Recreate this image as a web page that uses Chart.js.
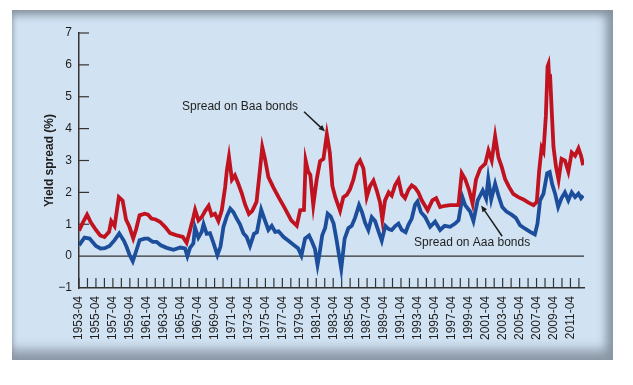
<!DOCTYPE html>
<html>
<head>
<meta charset="utf-8">
<title>Yield spread</title>
<script src="https://cdn.jsdelivr.net/npm/chart.js@4.4.1/dist/chart.umd.min.js"></script>
<style>
  html, body { margin: 0; padding: 0; background: #fff; }
  #wrap { position: relative; width: 633px; height: 385px; }
  #panel {
    position: absolute; left: 12px; top: 10px; width: 601px; height: 350px;
    background: #d1e3f3;
    box-shadow: inset 0 9px 8px -4px #85929f, inset 0 -16px 12px -6px #8a97a5,
                inset -12px 0 10px -5px #8a97a5, inset 3px 0 4px -2px #aab6c2;
  }
  canvas { position: absolute; left: 0; top: 0; }
</style>
</head>
<body>
<div id="wrap">
  <div id="panel"></div>
  <canvas id="spreadChart" width="633" height="385"></canvas>
</div>
<script>
// Spread on Baa bonds (decimal year, percent)
var baaDates = [1953.25, 1953.7, 1954.2, 1954.6, 1955.25, 1955.75, 1956.25, 1956.8, 1957.05, 1957.45,
  1957.95, 1958.4, 1958.8, 1959.2, 1959.65, 1960.0, 1960.4, 1961.0, 1961.4, 1961.8,
  1962.3, 1962.8, 1963.4, 1964.0, 1964.7, 1965.5, 1965.95, 1966.35, 1966.75, 1966.95,
  1967.35, 1967.75, 1968.15, 1968.55, 1968.9, 1969.3, 1969.7, 1970.1, 1970.5, 1970.7,
  1970.95, 1971.3, 1971.65, 1972.05, 1972.45, 1972.85, 1973.3, 1973.7, 1974.2, 1974.6,
  1974.88, 1975.2, 1975.6, 1976.2, 1976.8, 1977.5, 1978.3, 1978.95, 1979.35, 1979.8,
  1980.0, 1980.3, 1980.55, 1980.9, 1981.3, 1981.7, 1982.1, 1982.5, 1982.85, 1983.15,
  1983.5, 1984.06, 1984.45, 1984.85, 1985.24, 1985.63, 1986.03, 1986.42, 1986.82, 1987.21,
  1987.6, 1988.0, 1988.4, 1988.78, 1989.05, 1989.37, 1989.8, 1990.16, 1990.55, 1990.95,
  1991.34, 1991.73, 1992.13, 1992.52, 1992.91, 1993.3, 1993.7, 1994.4, 1994.95, 1995.4,
  1995.87, 1996.46, 1997.05, 1997.64, 1998.03, 1998.42, 1998.82, 1999.3, 1999.7, 2000.1,
  2000.6, 2001.2, 2001.57, 2001.96, 2002.36, 2002.75, 2003.14, 2003.54, 2004.0, 2004.5,
  2005.1, 2005.7, 2006.3, 2006.9, 2007.28, 2007.55, 2007.85, 2008.07, 2008.35, 2008.55,
  2008.65, 2008.75, 2008.87, 2009.05, 2009.25, 2009.55, 2009.85, 2010.2, 2010.6, 2011.0,
  2011.4, 2011.8, 2012.2, 2012.5, 2012.75];
var baaValues = [0.80, 1.05, 1.30, 1.08, 0.82, 0.65, 0.60, 0.76, 1.10, 0.94,
  1.85, 1.74, 1.15, 0.92, 0.56, 0.85, 1.28, 1.33, 1.30, 1.18,
  1.15, 1.08, 0.92, 0.72, 0.66, 0.60, 0.42, 0.81, 1.22, 1.45,
  1.12, 1.23, 1.42, 1.58, 1.28, 1.33, 1.10, 1.44, 2.17, 2.69,
  3.12, 2.40, 2.53, 2.27, 1.98, 1.62, 1.32, 1.42, 1.70, 2.69,
  3.42, 3.05, 2.48, 2.15, 1.85, 1.52, 1.12, 0.95, 1.44, 1.45,
  3.00, 2.65, 2.55, 1.60, 2.40, 2.98, 3.05, 3.82, 3.25, 2.20,
  1.85, 1.42, 1.85, 1.92, 2.10, 2.40, 2.85, 3.00, 2.75, 1.85,
  2.20, 2.37, 2.05, 1.68, 1.15, 1.75, 2.00, 1.90, 2.22, 2.40,
  1.94, 1.82, 2.08, 2.22, 2.15, 2.00, 1.75, 1.44, 1.75, 1.82,
  1.54, 1.58, 1.60, 1.60, 1.60, 2.60, 2.42, 2.06, 1.65, 2.40,
  2.75, 2.90, 3.31, 3.00, 3.76, 3.10, 2.80, 2.42, 2.17, 1.95,
  1.85, 1.78, 1.68, 1.60, 1.70, 2.65, 3.40, 3.28, 4.40, 5.95,
  6.02, 5.50, 5.55, 4.50, 3.42, 2.80, 2.40, 3.05, 3.00, 2.65,
  3.25, 3.15, 3.38, 3.15, 2.85];

// Spread on Aaa bonds (decimal year, percent)
var aaaDates = [1953.25, 1953.9, 1954.5, 1955.25, 1955.8, 1956.3, 1956.85, 1957.45, 1958.0, 1958.55,
  1958.85, 1959.2, 1959.6, 1960.0, 1960.4, 1960.97, 1961.4, 1961.95, 1962.4, 1962.9,
  1963.6, 1964.4, 1965.2, 1965.76, 1966.04, 1966.35, 1966.75, 1966.94, 1967.34, 1967.73,
  1967.95, 1968.32, 1968.71, 1969.11, 1969.58, 1969.95, 1970.3, 1970.7, 1971.1, 1971.47,
  1971.86, 1972.25, 1972.65, 1973.04, 1973.43, 1973.9, 1974.25, 1974.75, 1975.15, 1975.6,
  1976.0, 1976.4, 1976.8, 1977.4, 1977.97, 1978.56, 1979.1, 1979.5, 1979.93, 1980.4,
  1980.75, 1981.1, 1981.4, 1981.65, 1981.95, 1982.3, 1982.6, 1982.95, 1983.3, 1983.65,
  1984.2, 1984.6, 1985.05, 1985.44, 1985.83, 1986.3, 1986.65, 1987.01, 1987.4, 1987.8,
  1988.19, 1988.59, 1988.98, 1989.4, 1989.8, 1990.16, 1990.6, 1990.95, 1991.34, 1991.8,
  1992.13, 1992.52, 1992.92, 1993.2, 1993.6, 1994.1, 1994.69, 1995.28, 1995.87, 1996.4,
  1997.05, 1997.64, 1998.04, 1998.5, 1998.82, 1999.41, 1999.8, 2000.3, 2000.9, 2001.3,
  2001.55, 2001.9, 2002.36, 2002.75, 2003.2, 2003.7, 2004.3, 2004.8, 2005.3, 2005.9,
  2006.5, 2007.05, 2007.36, 2007.67, 2008.06, 2008.5, 2008.8, 2009.1, 2009.44, 2009.8,
  2010.2, 2010.6, 2011.0, 2011.4, 2011.8, 2012.2, 2012.5, 2012.75];
var aaaValues = [0.34, 0.58, 0.55, 0.32, 0.24, 0.25, 0.32, 0.50, 0.71, 0.48,
  0.30, 0.05, -0.16, 0.16, 0.50, 0.55, 0.55, 0.45, 0.45, 0.34,
  0.26, 0.20, 0.27, 0.24, 0.00, 0.26, 0.40, 0.90, 0.58, 0.76,
  1.00, 0.70, 0.72, 0.42, 0.03, 0.30, 0.92, 1.25, 1.49, 1.38,
  1.18, 1.00, 0.72, 0.60, 0.32, 0.70, 0.75, 1.46, 1.15, 0.82,
  0.95, 0.76, 0.78, 0.60, 0.48, 0.36, 0.25, 0.02, 0.55, 0.65,
  0.45, 0.22, -0.28, 0.10, 0.65, 0.88, 1.33, 1.25, 1.02, 0.50,
  -0.40, 0.55, 0.88, 0.95, 1.20, 1.60, 1.38, 1.05, 0.82, 1.22,
  1.10, 0.78, 0.48, 0.95, 0.85, 0.82, 0.95, 1.02, 0.82, 0.75,
  0.98, 1.18, 1.62, 1.72, 1.38, 1.23, 0.92, 1.08, 0.82, 0.95,
  0.92, 1.02, 1.12, 1.85, 1.60, 1.40, 1.10, 1.75, 2.06, 1.80,
  2.42, 1.78, 2.27, 1.90, 1.54, 1.40, 1.30, 1.20, 0.97, 0.86,
  0.76, 0.68, 1.02, 1.75, 1.95, 2.60, 2.64, 2.25, 1.96, 1.54,
  1.82, 2.00, 1.75, 2.00, 1.85, 1.96, 1.82, 1.90];

// x ticks: one per year (April), labelled every second year
var firstTickYear = 1953.25;
var lastTickYear = 2012.25;
var yTicks = [-1, 0, 1, 2, 3, 4, 5, 6, 7];

var annotations = [
  { text: 'Spread on Baa bonds', x: 1972.26, y: 4.69, from: [1979.81, 4.53], to: [1982.29, 3.91] },
  { text: 'Spread on Aaa bonds', x: 1999.65, y: 0.41, from: [2003.19, 0.625], to: [2000.71, 1.59] }
];

function toPoints(xs, ys) {
  return xs.map(function(x, i) { return { x: x, y: ys[i] }; });
}

function drawArrow(ctx, x1, y1, x2, y2) {
  var ang = Math.atan2(y2 - y1, x2 - x1);
  var head = 7;
  ctx.beginPath();
  ctx.moveTo(x1, y1);
  ctx.lineTo(x2 - Math.cos(ang) * head * 0.8, y2 - Math.sin(ang) * head * 0.8);
  ctx.stroke();
  ctx.beginPath();
  ctx.moveTo(x2, y2);
  ctx.lineTo(x2 - head * Math.cos(ang - 0.4), y2 - head * Math.sin(ang - 0.4));
  ctx.lineTo(x2 - head * Math.cos(ang + 0.4), y2 - head * Math.sin(ang + 0.4));
  ctx.closePath();
  ctx.fill();
}

var decorations = {
  id: 'decorations',
  beforeDatasetsDraw: function(chart) {
    var ctx = chart.ctx, area = chart.chartArea;
    var xs = chart.scales.x, ys = chart.scales.y;
    ctx.save();
    ctx.strokeStyle = '#333';
    // zero line
    ctx.lineWidth = 1.3;
    var y0 = ys.getPixelForValue(0);
    ctx.beginPath();
    ctx.moveTo(area.left, y0);
    ctx.lineTo(area.right, y0);
    ctx.stroke();
    // inward ticks on x axis
    ctx.lineWidth = 1.2;
    xs.ticks.forEach(function(t) {
      var px = xs.getPixelForValue(t.value);
      ctx.beginPath();
      ctx.moveTo(px, area.bottom);
      ctx.lineTo(px, area.bottom - 10);
      ctx.stroke();
    });
    // inward ticks on y axis
    yTicks.forEach(function(v) {
      if (v <= 0) return;
      var py = ys.getPixelForValue(v);
      ctx.beginPath();
      ctx.moveTo(area.left, py);
      ctx.lineTo(area.left + 10, py);
      ctx.stroke();
    });
    ctx.restore();
  },
  afterDatasetsDraw: function(chart) {
    var ctx = chart.ctx;
    var xs = chart.scales.x, ys = chart.scales.y;
    ctx.save();
    ctx.font = '12px "Liberation Sans", Arial, sans-serif';
    ctx.fillStyle = '#1e1e1e';
    ctx.strokeStyle = '#1e1e1e';
    ctx.lineWidth = 1.5;
    ctx.textAlign = 'center';
    ctx.textBaseline = 'middle';
    annotations.forEach(function(a) {
      ctx.fillText(a.text, xs.getPixelForValue(a.x), ys.getPixelForValue(a.y));
      drawArrow(ctx, xs.getPixelForValue(a.from[0]), ys.getPixelForValue(a.from[1]),
        xs.getPixelForValue(a.to[0]), ys.getPixelForValue(a.to[1]));
    });
    ctx.restore();
  }
};

Chart.defaults.font.family = '"Liberation Sans", Arial, sans-serif';
Chart.defaults.font.size = 12;
Chart.defaults.color = '#1e1e1e';

var ctx = document.getElementById('spreadChart').getContext('2d');
var chart = new Chart(ctx, {
  type: 'line',
  data: {
    datasets: [{
      label: 'Spread on Baa bonds',
      data: toPoints(baaDates, baaValues),
      borderColor: '#c1121f',
      borderWidth: 3.8,
      pointRadius: 0,
      tension: 0
    }, {
      label: 'Spread on Aaa bonds',
      data: toPoints(aaaDates, aaaValues),
      borderColor: '#1c4e9b',
      borderWidth: 3.8,
      pointRadius: 0,
      tension: 0
    }]
  },
  options: {
    responsive: false,
    animation: false,
    layout: { padding: { left: 0, top: 33, right: 49, bottom: 0 } },
    plugins: {
      legend: { display: false },
      tooltip: { enabled: false }
    },
    scales: {
      x: {
        type: 'linear',
        min: 1953.25,
        max: 2012.85,
        afterBuildTicks: function(scale) {
          var ticks = [];
          for (var y = firstTickYear; y <= lastTickYear; y += 1) {
            ticks.push({ value: y });
          }
          scale.ticks = ticks;
        },
        afterFit: function(scale) { scale.height = 97; },
        grid: { display: false, drawTicks: false },
        border: { display: true, color: '#333', width: 1.5 },
        ticks: {
          autoSkip: false,
          minRotation: 90,
          maxRotation: 90,
          padding: 8,
          font: { size: 12 },
          callback: function(value) {
            var yr = Math.floor(value);
            return ((yr - 1953) % 2 === 0) ? yr + '-04' : '';
          }
        }
      },
      y: {
        min: -1,
        max: 7,
        afterBuildTicks: function(scale) {
          scale.ticks = yTicks.map(function(v) { return { value: v }; });
        },
        afterFit: function(scale) { scale.width = 79; },
        grid: { display: false, drawTicks: false },
        border: { display: true, color: '#333', width: 1.5 },
        ticks: {
          padding: 7,
          font: { size: 12 },
          callback: function(value) {
            return value < 0 ? '\u2212' + Math.abs(value) : String(value);
          }
        },
        title: {
          display: true,
          text: 'Yield spread (%)',
          font: { size: 12, weight: 'bold' },
          padding: { top: 42, bottom: 0 }
        }
      }
    }
  },
  plugins: [decorations]
});
</script>
</body>
</html>
